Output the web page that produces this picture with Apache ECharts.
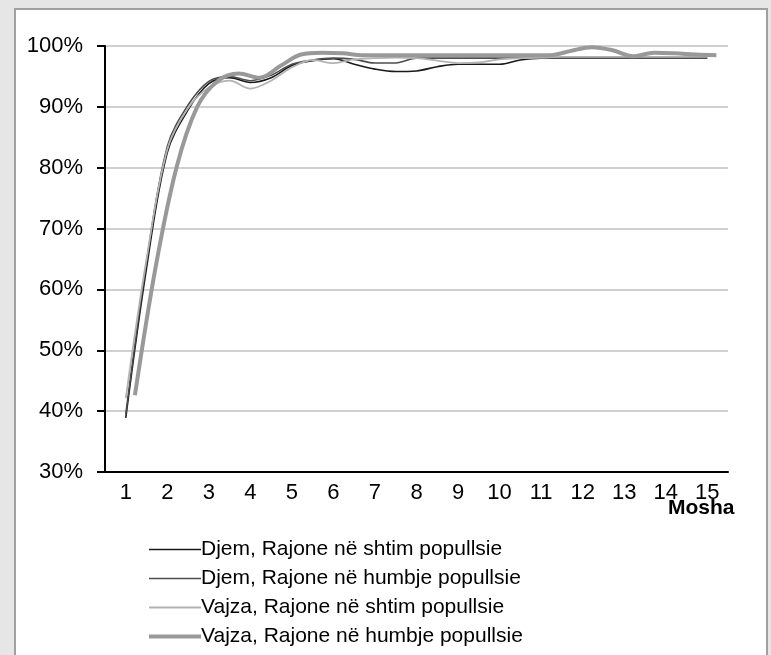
<!DOCTYPE html>
<html>
<head>
<meta charset="utf-8">
<script src="https://cdn.jsdelivr.net/npm/echarts@6/dist/echarts.min.js"></script>
<style>
  html, body { margin: 0; padding: 0; background: #e6e6e6; }
  #chart { width: 771px; height: 655px; }
</style>
</head>
<body>
<div id="chart"></div>
<script>
// mosha (vjet) - kategorite e boshtit
const categories = ['1', '2', '3', '4', '5', '6', '7', '8', '9', '10', '11', '12', '13', '14', '15'];
// pikat e matjes, cdo gjysem viti
const ages = [1, 1.5, 2, 2.5, 3, 3.5, 4, 4.5, 5, 5.5, 6, 6.5, 7, 7.5, 8, 8.5, 9, 9.5, 10, 10.5, 11, 11.5, 12, 12.5, 13, 13.5, 14, 14.5, 15];
// seria e fundit eshte e zhvendosur pak ne te djathte ne grafik
const agesShift = 0.22;

const djemShtim   = [38.9, 63.5, 82.5, 89.5, 93.8, 94.8, 94.0, 94.8, 96.8, 97.6, 97.9, 97.0, 96.2, 95.8, 95.9, 96.6, 97.0, 97.0, 97.0, 97.7, 98.0, 98.0, 98.0, 98.0, 98.0, 98.0, 98.0, 98.0, 98.0];
const djemHumbje  = [39.5, 64.5, 83.5, 90.3, 94.2, 95.0, 94.3, 95.2, 97.0, 97.7, 98.0, 97.8, 97.2, 97.2, 98.0, 98.0, 98.0, 98.0, 98.0, 98.0, 98.0, 98.0, 98.0, 98.0, 98.0, 98.0, 98.0, 98.0, 98.0];
const vajzaShtim  = [42.1, 65.0, 83.0, 89.8, 93.2, 94.3, 93.0, 94.3, 96.5, 97.7, 97.2, 97.8, 98.0, 98.1, 98.0, 97.6, 97.2, 97.3, 97.8, 98.0, 98.1, 98.2, 98.2, 98.2, 98.2, 98.2, 98.2, 98.2, 98.2];
const vajzaHumbje = [42.6, 63.7, 80.0, 90.0, 94.3, 95.5, 94.8, 96.7, 98.6, 98.9, 98.8, 98.5, 98.5, 98.5, 98.5, 98.5, 98.5, 98.5, 98.5, 98.5, 98.5, 99.2, 99.8, 99.3, 98.3, 98.9, 98.8, 98.6, 98.5];

const names = [
  'Djem, Rajone në shtim popullsie',
  'Djem, Rajone në humbje popullsie',
  'Vajza, Rajone në shtim popullsie',
  'Vajza, Rajone në humbje popullsie'
];
const colors = ['#1a1a1a', '#4d4d4d', '#b3b3b3', '#999999'];
const widths = [1.6, 1.6, 1.8, 4];

const FONT = "'Liberation Sans', Arial, sans-serif";

const toPoints = (vals, shift) => vals.map((v, i) => [ages[i] + (shift || 0), v]);

const lineSeries = (i, vals, shift) => ({
  name: names[i],
  type: 'line',
  xAxisIndex: 1,
  data: toPoints(vals, shift),
  symbol: 'none',
  smooth: 0.35,
  lineStyle: { color: colors[i], width: widths[i] },
  itemStyle: { color: colors[i] }
});

const chart = echarts.init(document.getElementById('chart'));

chart.setOption({
  animation: false,
  backgroundColor: '#e6e6e6',
  textStyle: { fontFamily: FONT },
  graphic: [
    { // paneli i bardhe
      type: 'rect', z: -10, silent: true,
      shape: { x: 15, y: 9, width: 752, height: 660 },
      style: { fill: '#ffffff', stroke: '#a0a0a0', lineWidth: 2 }
    },
    {
      type: 'text', z: 10,
      left: 668, top: 498,
      style: { text: 'Mosha', font: "bold 21px " + FONT, fill: '#000' }
    }
  ],
  grid: { left: 105, right: 43, top: 46, bottom: 183 },
  legend: {
    orient: 'vertical',
    left: 142, top: 534,
    itemWidth: 52, itemHeight: 14, itemGap: 8,
    itemStyle: { opacity: 0 },
    textStyle: { fontSize: 21, color: '#000', fontFamily: FONT, lineHeight: 21, padding: [0, 0, 0, -5] },
    data: names.map((n, i) => ({ name: n, lineStyle: { color: colors[i], width: widths[i] } }))
  },
  xAxis: [
    {
      type: 'category',
      data: categories,
      boundaryGap: true,
      axisLine: { lineStyle: { color: '#000', width: 2 } },
      axisTick: { length: 8, lineStyle: { color: '#000', width: 2 } },
      axisLabel: { fontSize: 22, color: '#000', margin: 10, fontFamily: FONT },
      splitLine: { show: false }
    },
    {
      type: 'value',
      min: 0.5, max: 15.5,
      show: false,
      splitLine: { show: false }
    }
  ],
  yAxis: {
    type: 'value',
    min: 30, max: 100, interval: 10,
    axisLine: { show: true, lineStyle: { color: '#000', width: 2 } },
    axisTick: { show: true, length: 8, lineStyle: { color: '#000', width: 2 } },
    axisLabel: { fontSize: 22, color: '#000', margin: 22, formatter: '{value}%', fontFamily: FONT },
    splitLine: { lineStyle: { color: '#c0c0c0', width: 1.5 } }
  },
  series: [
    lineSeries(0, djemShtim),
    lineSeries(1, djemHumbje),
    lineSeries(2, vajzaShtim),
    lineSeries(3, vajzaHumbje, agesShift)
  ]
});
</script>
</body>
</html>
